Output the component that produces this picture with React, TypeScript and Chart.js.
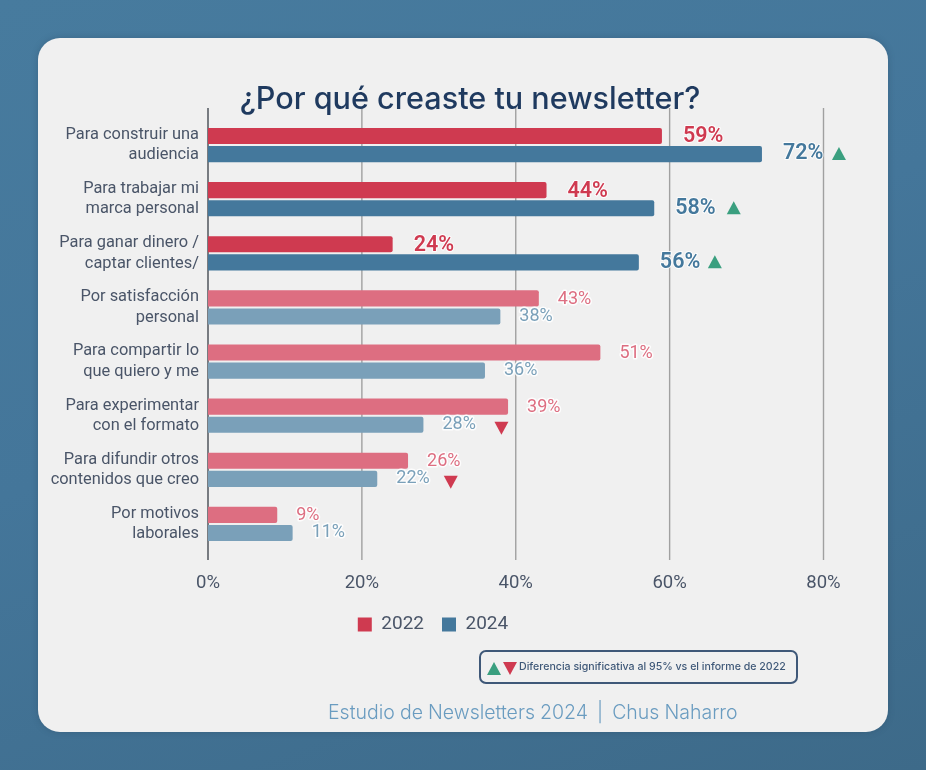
import React, { useEffect, useRef } from "react";
import { Chart, registerables } from "chart.js";

Chart.register(...registerables);

const categories = [
  ["Para construir una", "audiencia"],
  ["Para trabajar mi", "marca personal"],
  ["Para ganar dinero /", "captar clientes/"],
  ["Por satisfacción", "personal"],
  ["Para compartir lo", "que quiero y me"],
  ["Para experimentar", "con el formato"],
  ["Para difundir otros", "contenidos que creo"],
  ["Por motivos", "laborales"],
];
const values2022 = [59, 44, 24, 43, 51, 39, 26, 9];
const values2024 = [72, 58, 56, 38, 36, 28, 22, 11];
const changes2024 = ["up", "up", "up", "", "", "down", "down", ""];
const highlightedRows = [0, 1, 2];
const markerGaps = [77, 79.5, 76, 0, 0, 78, 73.5, 0];

const RED = "#cf3a50";
const BLUE = "#44789c";
const RED_LIGHT = "#dd6e81";
const BLUE_LIGHT = "#7aa0b9";
const GREEN = "#3a9f7f";
const TEXT = "#4a5568";

const overlayPlugin = {
  id: "overlay",
  beforeDatasetsDraw(chart: any) {
    const { ctx, scales } = chart;
    const x = scales.x;
    const top = chart.chartArea.top - 10;
    const bottom = chart.chartArea.bottom + 9;
    ctx.save();
    x.ticks.forEach((t: any, i: number) => {
      const px = x.getPixelForValue(t.value);
      ctx.beginPath();
      ctx.strokeStyle = i === 0 ? "#5a5f66" : "#a0a0a0";
      ctx.lineWidth = i === 0 ? 1.6 : 1.4;
      ctx.moveTo(px, top);
      ctx.lineTo(px, bottom);
      ctx.stroke();
    });
    ctx.restore();
  },
  afterDatasetsDraw(chart: any) {
    const { ctx } = chart;
    ctx.save();
    ctx.textBaseline = "middle";
    chart.data.datasets.forEach((ds: any, di: number) => {
      const meta = chart.getDatasetMeta(di);
      meta.data.forEach((bar: any, i: number) => {
        const strong = highlightedRows.includes(i);
        const value = ds.data[i];
        const label = value + "%";
        const lx = bar.x + (strong ? 21 : 19);
        const ly = bar.y + (di === 0 ? 1 : 0);
        ctx.font = strong ? "600 21.5px Roboto" : "400 18px Roboto";
        ctx.lineJoin = "round";
        ctx.lineWidth = strong ? 2 : 3;
        ctx.strokeStyle = "rgba(255,255,255,0.85)";
        ctx.strokeText(label, lx, ly);
        ctx.fillStyle = strong
          ? di === 0 ? RED : BLUE
          : di === 0 ? RED_LIGHT : BLUE_LIGHT;
        ctx.fillText(label, lx, ly);
        if (di === 1 && changes2024[i]) {
          const cx = bar.x + markerGaps[i];
          const up = changes2024[i] === "up";
          ctx.beginPath();
          ctx.fillStyle = up ? GREEN : RED;
          if (up) {
            ctx.moveTo(cx - 7, bar.y + 6);
            ctx.lineTo(cx + 7, bar.y + 6);
            ctx.lineTo(cx, bar.y - 7);
          } else {
            ctx.moveTo(cx - 7, bar.y - 3);
            ctx.lineTo(cx + 7, bar.y - 3);
            ctx.lineTo(cx, bar.y + 10);
          }
          ctx.closePath();
          ctx.fill();
        }
      });
    });
    ctx.restore();
  },
};

export default function App() {
  const ref = useRef<HTMLCanvasElement | null>(null);
  useEffect(() => {
    const colour = (solid: string, light: string) => (c: any) =>
      c.dataIndex === undefined || highlightedRows.includes(c.dataIndex) ? solid : light;
    const chart = new Chart(ref.current as HTMLCanvasElement, {
      type: "bar",
      data: {
        labels: categories,
        datasets: [
          { label: "2022", data: values2022, backgroundColor: colour(RED, RED_LIGHT) as any },
          { label: "2024", data: values2024, backgroundColor: colour(BLUE, BLUE_LIGHT) as any },
        ],
      },
      options: {
        indexAxis: "y",
        responsive: false,
        animation: false,
        devicePixelRatio: 1,
        layout: { padding: { top: 118, right: 42.5, bottom: 126, left: 42.5 } },
        datasets: { bar: { categoryPercentage: 0.668, barPercentage: 0.889, borderRadius: 2 } },
        scales: {
          x: {
            min: 0,
            max: 80,
            grid: { display: false },
            border: { display: false },
            ticks: {
              stepSize: 20,
              padding: 13,
              color: TEXT,
              font: { family: "Roboto", size: 18.5 },
              maxRotation: 0,
              callback: (v: any) => v + "%",
            },
            afterFit: (s: any) => { s.height = 46; },
          },
          y: {
            grid: { display: false },
            border: { display: false },
            ticks: {
              padding: 1,
              color: TEXT,
              autoSkip: false,
              font: { family: "Roboto", size: 16.4, lineHeight: 1.24 },
            },
            afterFit: (s: any) => { s.width = 165.5; },
          },
        },
        plugins: {
          tooltip: { enabled: false },
          legend: {
            position: "bottom",
            labels: {
              boxWidth: 14,
              boxHeight: 14,
              padding: 18,
              color: TEXT,
              font: { family: "Roboto", size: 19 },
            },
          },
        },
      } as any,
      plugins: [overlayPlugin as any],
    });
    return () => chart.destroy();
  }, []);

  return (
    <div style={{ position: "fixed", left: 0, top: 0, width: 926, height: 770, overflow: "hidden",
      background: "linear-gradient(160deg, #477b9e 0%, #44769a 45%, #3d6a89 100%)" }}>
      <div style={{ position: "absolute", left: 38, top: 38, width: 850, height: 694, borderRadius: 22,
        background: "#f0f0f0", boxShadow: "0 0 6px rgba(40,70,95,0.35)" }} />
      <canvas ref={ref} width={866} height={770} style={{ position: "absolute", left: 0, top: 0, width: 866, height: 770 }} />
      <div style={{ position: "absolute", left: 170, width: 600, top: 79, textAlign: "center",
        font: "500 30.6px Inter", color: "#1f3a5f", whiteSpace: "nowrap" }}>
        ¿Por qué creaste tu newsletter?
      </div>
      <div style={{ position: "absolute", left: 479, top: 650, width: 319, height: 34, boxSizing: "border-box",
        border: "2px solid #3f5878", borderRadius: 7 }}>
        <svg width="34" height="16" style={{ position: "absolute", left: 6, top: 9 }}>
          <polygon points="0,14 14,14 7,1" fill={GREEN} />
          <polygon points="16,1 30,1 23,14" fill={RED} />
        </svg>
        <span style={{ position: "absolute", left: 38, top: 8, font: "500 10.6px Inter", color: "#3f5878", whiteSpace: "nowrap" }}>
          Diferencia significativa al 95% vs el informe de 2022
        </span>
      </div>
      <div style={{ position: "absolute", left: 328, top: 700, font: "300 19.5px Inter", color: "#6a9cc0", whiteSpace: "pre", wordSpacing: -0.4 }}>
        Estudio de Newsletters 2024<span style={{ margin: "0 9px" }}>|</span>Chus Naharro
      </div>
    </div>
  );
}
